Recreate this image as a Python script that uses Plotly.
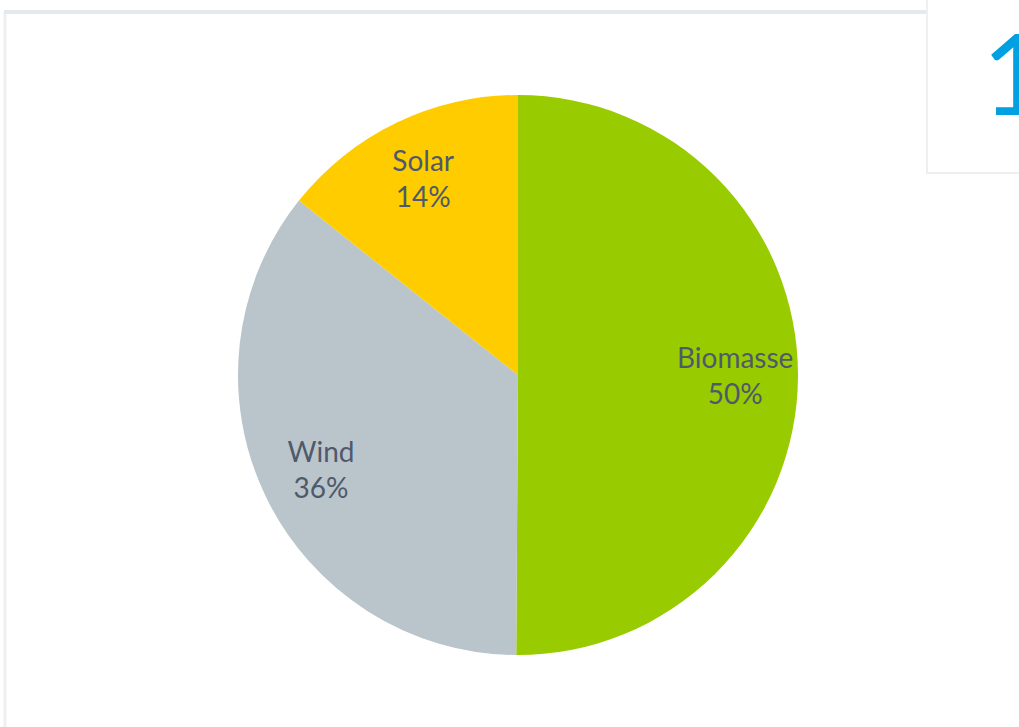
import plotly.graph_objects as go

# data
sources = ["Biomasse", "Wind", "Solar"]
shares = [50.1, 35.6, 14.3]
slice_colors = ["#99CC00", "#BAC4CB", "#FFCC00"]

W, H = 1019, 727
text_color = "#4E5A6B"
pie_domain = {"x": [238 / W, 798 / W], "y": [72 / H, 632 / H]}

# the slices
fig = go.Figure(go.Pie(
    labels=sources,
    values=shares,
    sort=False,
    direction="clockwise",
    rotation=0,
    marker={"colors": slice_colors, "line": {"width": 0}},
    textinfo="none",
    hoverinfo="skip",
    domain=pie_domain,
    showlegend=False,
))

# same data again as a transparent ring, so the labels sit out toward the rim
fig.add_trace(go.Pie(
    labels=sources,
    values=shares,
    sort=False,
    direction="clockwise",
    rotation=0,
    hole=0.56,
    marker={"colors": ["rgba(0,0,0,0)"] * 3, "line": {"width": 0}},
    texttemplate="%{label}<br>%{percent:.0%}",
    textposition="inside",
    insidetextorientation="horizontal",
    textfont={"family": "Lato", "size": 28, "color": text_color},
    hoverinfo="label+percent",
    domain=pie_domain,
    showlegend=False,
))

# frame around the chart area + the box at top right
fig.update_layout(
    width=W, height=H,
    margin={"l": 0, "r": 0, "t": 0, "b": 0},
    paper_bgcolor="white",
    plot_bgcolor="white",
    uniformtext={"minsize": 28, "mode": "show"},
    shapes=[
        dict(type="line", xref="paper", yref="paper",
             x0=5 / W, x1=5 / W, y0=0, y1=1 - 12 / H,
             line={"color": "#EDEFF1", "width": 3}),
        dict(type="line", xref="paper", yref="paper",
             x0=4 / W, x1=927 / W, y0=1 - 12 / H, y1=1 - 12 / H,
             line={"color": "#E6E9EC", "width": 4}),
        dict(type="rect", xref="paper", yref="paper",
             x0=927 / W, x1=1.05, y0=1 - 173 / H, y1=1.05,
             fillcolor="white", line={"color": "#EEEFF0", "width": 2}),
    ],
    annotations=[
        dict(text="1", xref="paper", yref="paper",
             x=980 / W, y=1 - 72 / H, xanchor="left", yanchor="middle",
             showarrow=False,
             font={"family": "Lato", "size": 112, "color": "#00A0E3"}),
    ],
)

fig.write_html("out.html",
               config={"displayModeBar": False},
               post_script="document.body.style.margin = '0';")
